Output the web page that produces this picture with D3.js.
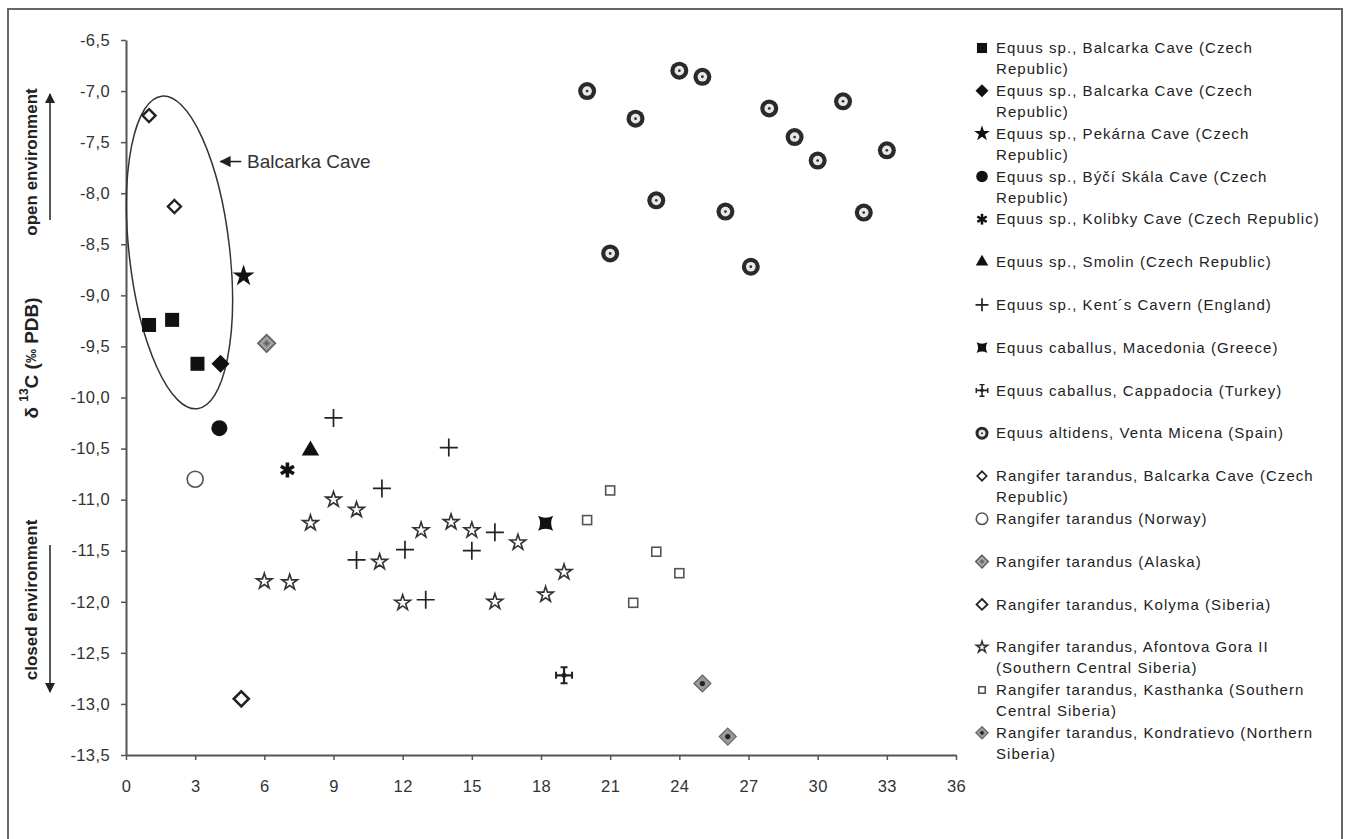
<!DOCTYPE html>
<html>
<head>
<meta charset="utf-8">
<script src="https://cdn.jsdelivr.net/npm/d3@7"></script>
<style>
  body { margin: 0; background: #fff; }
  svg { font-family: "Liberation Sans", Arial, sans-serif; }
</style>
</head>
<body>
<svg id="chart" width="1348" height="839"></svg>
<script>
// ---------------------------------------------------------------------------
// Data (x, δ13C)

const equusBalcarkaSq = [[1, -9.29], [2, -9.24], [3.1, -9.67]];
const equusBalcarkaDia = [[4.1, -9.67]];
const equusPekarna = [[5.1, -8.81]];
const equusBycíSkala = [[4.05, -10.3]];
const equusKolibky = [[7, -10.71]];
const equusSmolin = [[8, -10.52]];
const equusKents = [[9, -10.2], [14, -10.49], [11.1, -10.89], [10, -11.59],
  [12.1, -11.49], [16, -11.32], [15, -11.5], [13, -11.98]];
const caballusMacedonia = [[18.2, -11.23]];
const caballusCappadocia = [[19, -12.72]];
const altidensVenta = [[20, -7.0], [24, -6.8], [25, -6.86], [22.1, -7.27],
  [27.9, -7.17], [31.1, -7.1], [29, -7.45], [30, -7.68], [33, -7.58],
  [23, -8.07], [26, -8.18], [32, -8.19], [21, -8.59], [27.1, -8.72]];
const rangiferBalcarka = [[1, -7.24], [2.1, -8.13]];
const rangiferNorway = [[3, -10.8]];
const rangiferAlaska = [[6.1, -9.47]];
const rangiferKolyma = [[5, -12.95]];
const rangiferAfontova = [[9, -11.0], [10, -11.1], [8, -11.23], [12.8, -11.3],
  [14.1, -11.22], [15, -11.3], [17, -11.42], [11, -11.61], [6, -11.8],
  [7.1, -11.81], [12, -12.01], [16, -12.0], [19, -11.71], [18.2, -11.93]];
const rangiferKasthanka = [[21, -10.91], [20, -11.2], [23, -11.51], [24, -11.72], [22, -12.01]];
const rangiferKondratievo = [[25, -12.8], [26.1, -13.32]];

const seriesLabels = [
  'Equus sp., Balcarka Cave (Czech\nRepublic)',
  'Equus sp., Balcarka Cave (Czech\nRepublic)',
  'Equus sp., Pekárna Cave (Czech\nRepublic)',
  'Equus sp., Býčí Skála Cave (Czech\nRepublic)',
  'Equus sp., Kolibky Cave (Czech Republic)',
  'Equus sp., Smolin (Czech Republic)',
  'Equus sp., Kent´s Cavern (England)',
  'Equus caballus, Macedonia (Greece)',
  'Equus caballus, Cappadocia (Turkey)',
  'Equus altidens, Venta Micena (Spain)',
  'Rangifer tarandus, Balcarka Cave (Czech\nRepublic)',
  'Rangifer tarandus (Norway)',
  'Rangifer tarandus (Alaska)',
  'Rangifer tarandus, Kolyma (Siberia)',
  'Rangifer tarandus, Afontova Gora II\n(Southern Central Siberia)',
  'Rangifer tarandus, Kasthanka (Southern\nCentral Siberia)',
  'Rangifer tarandus, Kondratievo (Northern\nSiberia)'
];
const seriesData = [equusBalcarkaSq, equusBalcarkaDia, equusPekarna, equusBycíSkala,
  equusKolibky, equusSmolin, equusKents, caballusMacedonia, caballusCappadocia,
  altidensVenta, rangiferBalcarka, rangiferNorway, rangiferAlaska, rangiferKolyma,
  rangiferAfontova, rangiferKasthanka, rangiferKondratievo];
const seriesMarkers = ['sqFill', 'diaFill', 'starFill', 'circFill', 'asterisk', 'triFill',
  'plus', 'bowtie', 'pattee', 'ringDot', 'diaOpen', 'circOpen', 'diaGrey', 'diaOpen2',
  'starOpen', 'sqOpen', 'diaDot'];

const xTicks = [0, 3, 6, 9, 12, 15, 18, 21, 24, 27, 30, 33, 36];
const yTicks = [-6.5, -7, -7.5, -8, -8.5, -9, -9.5, -10, -10.5, -11, -11.5, -12, -12.5, -13, -13.5];

// Balcarka Cave ellipse: centre and half-axes (data units)
const ellipseCentre = [2.32, -8.58];
const ellipseHalf = [2.18, 1.54];

// ---------------------------------------------------------------------------

const svg = d3.select('#chart');
const ink = '#222';

// outer frame (bottom edge is cut off in the original)
svg.append('rect')
  .attr('x', 8).attr('y', 9).attr('width', 1334).attr('height', 860)
  .attr('fill', 'none').attr('stroke', '#666').attr('stroke-width', 2);

const x = d3.scaleLinear().domain([0, 36]).range([126, 956]);
const y = d3.scaleLinear().domain([-13.5, -6.5]).range([755, 40]);
const fmt = d => d3.format('.1f')(d).replace('.', ',').replace('−', '-');

const xAxis = svg.append('g')
  .attr('transform', `translate(0,${y(-13.5)})`)
  .call(d3.axisBottom(x).tickValues(xTicks).tickSize(5).tickPadding(20).tickSizeOuter(0).tickFormat(d3.format('d')));
const yAxis = svg.append('g')
  .attr('transform', `translate(${x(0)},0)`)
  .call(d3.axisLeft(y).tickValues(yTicks).tickSize(5).tickPadding(11).tickSizeOuter(0).tickFormat(fmt));
[xAxis, yAxis].forEach(ax => {
  ax.select('.domain').attr('stroke', '#555').attr('stroke-width', 2);
  ax.selectAll('.tick line').attr('stroke', '#555').attr('stroke-width', 1.5);
  ax.selectAll('.tick text').attr('fill', '#333').style('font-size', '16.5px')
    .style('letter-spacing', '0.4px')
    .style('font-family', '"Liberation Sans", Arial, sans-serif');
});

// y axis titles
function vText(cx, cy, txt, size, weight) {
  return svg.append('text')
    .attr('transform', `translate(${cx},${cy}) rotate(-90)`)
    .attr('text-anchor', 'middle').attr('dominant-baseline', 'central')
    .attr('fill', ink).style('font-size', size + 'px').style('font-weight', weight)
    .text(txt);
}
vText(31, 162, 'open environment', 17, 'bold');
vText(31, 600, 'closed environment', 17, 'bold');
const dl = svg.append('text')
  .attr('transform', 'translate(31,358) rotate(-90)')
  .attr('text-anchor', 'middle').attr('dominant-baseline', 'central')
  .attr('fill', ink).style('font-size', '19px').style('font-weight', 'bold');
dl.append('tspan').text('δ ');
dl.append('tspan').attr('dy', -7).style('font-size', '12px').text('13');
dl.append('tspan').attr('dy', 7).text('C  (');
dl.append('tspan').style('font-size', '14px').text('‰');
dl.append('tspan').text(' PDB)');

svg.append('defs').append('marker')
  .attr('id', 'ah').attr('viewBox', '0 0 10 10').attr('refX', 9).attr('refY', 5)
  .attr('markerWidth', 7).attr('markerHeight', 7).attr('orient', 'auto-start-reverse')
  .append('path').attr('d', 'M0,0 L10,5 L0,10 Z').attr('fill', ink);
svg.append('line').attr('x1', 50).attr('x2', 50).attr('y1', 220).attr('y2', 94)
  .attr('stroke', ink).attr('stroke-width', 1.5).attr('marker-end', 'url(#ah)');
svg.append('line').attr('x1', 50).attr('x2', 50).attr('y1', 545).attr('y2', 692)
  .attr('stroke', ink).attr('stroke-width', 1.5).attr('marker-end', 'url(#ah)');

// ---------------------------------------------------------------------------
// markers

function diamond(h) { return `M0,${-h}L${h},0L0,${h}L${-h},0Z`; }

function drawMarker(g, type, s) {
  switch (type) {
    case 'sqFill':
      g.append('rect').attr('x', -7 * s).attr('y', -7 * s).attr('width', 14 * s).attr('height', 14 * s).attr('fill', '#111');
      break;
    case 'diaFill':
      g.append('path').attr('d', diamond(9 * s)).attr('fill', '#111');
      break;
    case 'starFill':
      g.append('path').attr('d', d3.symbol(d3.symbolStar, 150 * s * s)()).attr('fill', '#111');
      break;
    case 'circFill':
      g.append('circle').attr('r', 8 * s).attr('fill', '#111');
      break;
    case 'asterisk':
      [90, 30, 150].forEach(a => {
        const r = 7.5 * s, t = a * Math.PI / 180;
        g.append('line').attr('x1', -r * Math.cos(t)).attr('y1', -r * Math.sin(t))
          .attr('x2', r * Math.cos(t)).attr('y2', r * Math.sin(t))
          .attr('stroke', '#111').attr('stroke-width', 3.6 * s);
      });
      break;
    case 'triFill':
      g.append('path').attr('d', d3.symbol(d3.symbolTriangle, 130 * s * s)()).attr('fill', '#111');
      break;
    case 'plus':
      g.append('path').attr('d', `M${-9 * s},0H${9 * s}M0,${-9 * s}V${9 * s}`)
        .attr('stroke', '#222').attr('stroke-width', 1.7);
      break;
    case 'bowtie': {
      const h = 7.5 * s, c = 3.5 * s;
      g.append('path')
        .attr('d', `M${-h},${-h}Q0,${-c} ${h},${-h}Q${c},0 ${h},${h}Q0,${c} ${-h},${h}Q${-c},0 ${-h},${-h}Z`)
        .attr('fill', '#111');
      break;
    }
    case 'pattee': {
      const r = 8 * s, w = 3.5 * s;
      g.append('path').attr('d', `M${-r},0H${r}M0,${-r}V${r}`).attr('stroke', '#222').attr('stroke-width', 2.2 * s);
      g.append('path')
        .attr('d', `M${-r},${-w}V${w}M${r},${-w}V${w}M${-w},${-r}H${w}M${-w},${r}H${w}`)
        .attr('stroke', '#222').attr('stroke-width', 2 * s);
      g.append('circle').attr('r', 2.5 * s).attr('fill', '#222');
      break;
    }
    case 'ringDot':
      g.append('circle').attr('r', 9 * s).attr('fill', '#2a2a2a');
      g.append('circle').attr('r', 4.8 * s).attr('fill', '#e8e8e8');
      g.append('circle').attr('r', 1.4 * s).attr('fill', '#333');
      break;
    case 'diaOpen':
      g.append('path').attr('d', diamond(6.5 * s)).attr('fill', '#fff').attr('stroke', '#222').attr('stroke-width', 2.4 * s);
      break;
    case 'diaOpen2':
      g.append('path').attr('d', diamond(7.5 * s)).attr('fill', '#fff').attr('stroke', '#222').attr('stroke-width', 2.6 * s);
      break;
    case 'circOpen':
      g.append('circle').attr('r', 8 * s).attr('fill', '#fff').attr('stroke', '#555').attr('stroke-width', 1.6);
      break;
    case 'diaGrey':
      g.append('path').attr('d', diamond(9 * s)).attr('fill', '#8a8a8a').attr('stroke', '#555').attr('stroke-width', 1.2);
      g.append('path').attr('d', diamond(5.5 * s)).attr('fill', 'none').attr('stroke', '#c8c8c8').attr('stroke-width', 1);
      g.append('path').attr('d', diamond(2.5 * s)).attr('fill', '#666');
      break;
    case 'starOpen':
      g.append('path').attr('d', d3.symbol(d3.symbolStar, 75 * s * s)())
        .attr('fill', '#fff').attr('stroke', '#333').attr('stroke-width', 1.6);
      break;
    case 'sqOpen':
      g.append('rect').attr('x', -4.5 * s).attr('y', -4.5 * s).attr('width', 9 * s).attr('height', 9 * s)
        .attr('fill', '#fff').attr('stroke', '#555').attr('stroke-width', 1.6);
      break;
    case 'diaDot':
      g.append('path').attr('d', diamond(8.5 * s)).attr('fill', '#999').attr('stroke', '#666').attr('stroke-width', 1.2);
      g.append('circle').attr('r', 2.6 * s).attr('fill', '#222');
      break;
  }
}

// ellipse around Balcarka Cave points
svg.append('ellipse')
  .attr('cx', 0).attr('cy', 0)
  .attr('rx', x(ellipseHalf[0]) - x(0))
  .attr('ry', y(-13.5) - y(-13.5 + ellipseHalf[1]))
  .attr('transform', `translate(${x(ellipseCentre[0])},${y(ellipseCentre[1])}) rotate(-6.5)`)
  .attr('fill', 'none').attr('stroke', '#333').attr('stroke-width', 1.5);

// points
const plot = svg.append('g');
seriesData.forEach((pts, i) => {
  plot.selectAll(null).data(pts).enter().append('g')
    .attr('transform', d => `translate(${x(d[0])},${y(d[1])})`)
    .each(function() { drawMarker(d3.select(this), seriesMarkers[i], 1); });
});

// annotation
const annoY = y(-7.69);
svg.append('line').attr('x1', x(5.0)).attr('x2', x(4.1)).attr('y1', annoY).attr('y2', annoY)
  .attr('stroke', ink).attr('stroke-width', 1.6).attr('marker-end', 'url(#ah)');
svg.append('text').attr('x', x(5.25)).attr('y', annoY).attr('dominant-baseline', 'central')
  .attr('fill', '#333').style('font-size', '19px').text('Balcarka Cave');

// ---------------------------------------------------------------------------
// legend

const legend = svg.append('g').attr('transform', 'translate(982,48)');
seriesLabels.forEach((lab, i) => {
  const row = legend.append('g').attr('transform', `translate(0,${i * 42.8})`);
  drawMarker(row, seriesMarkers[i], 0.72);
  const t = row.append('text').attr('x', 14).attr('fill', '#222')
    .style('font-size', '15px').style('letter-spacing', '1.05px');
  lab.split('\n').forEach((ln, j) => {
    t.append('tspan').attr('x', 14).attr('y', j * 21).attr('dy', '0.35em').text(ln);
  });
});
</script>
</body>
</html>
